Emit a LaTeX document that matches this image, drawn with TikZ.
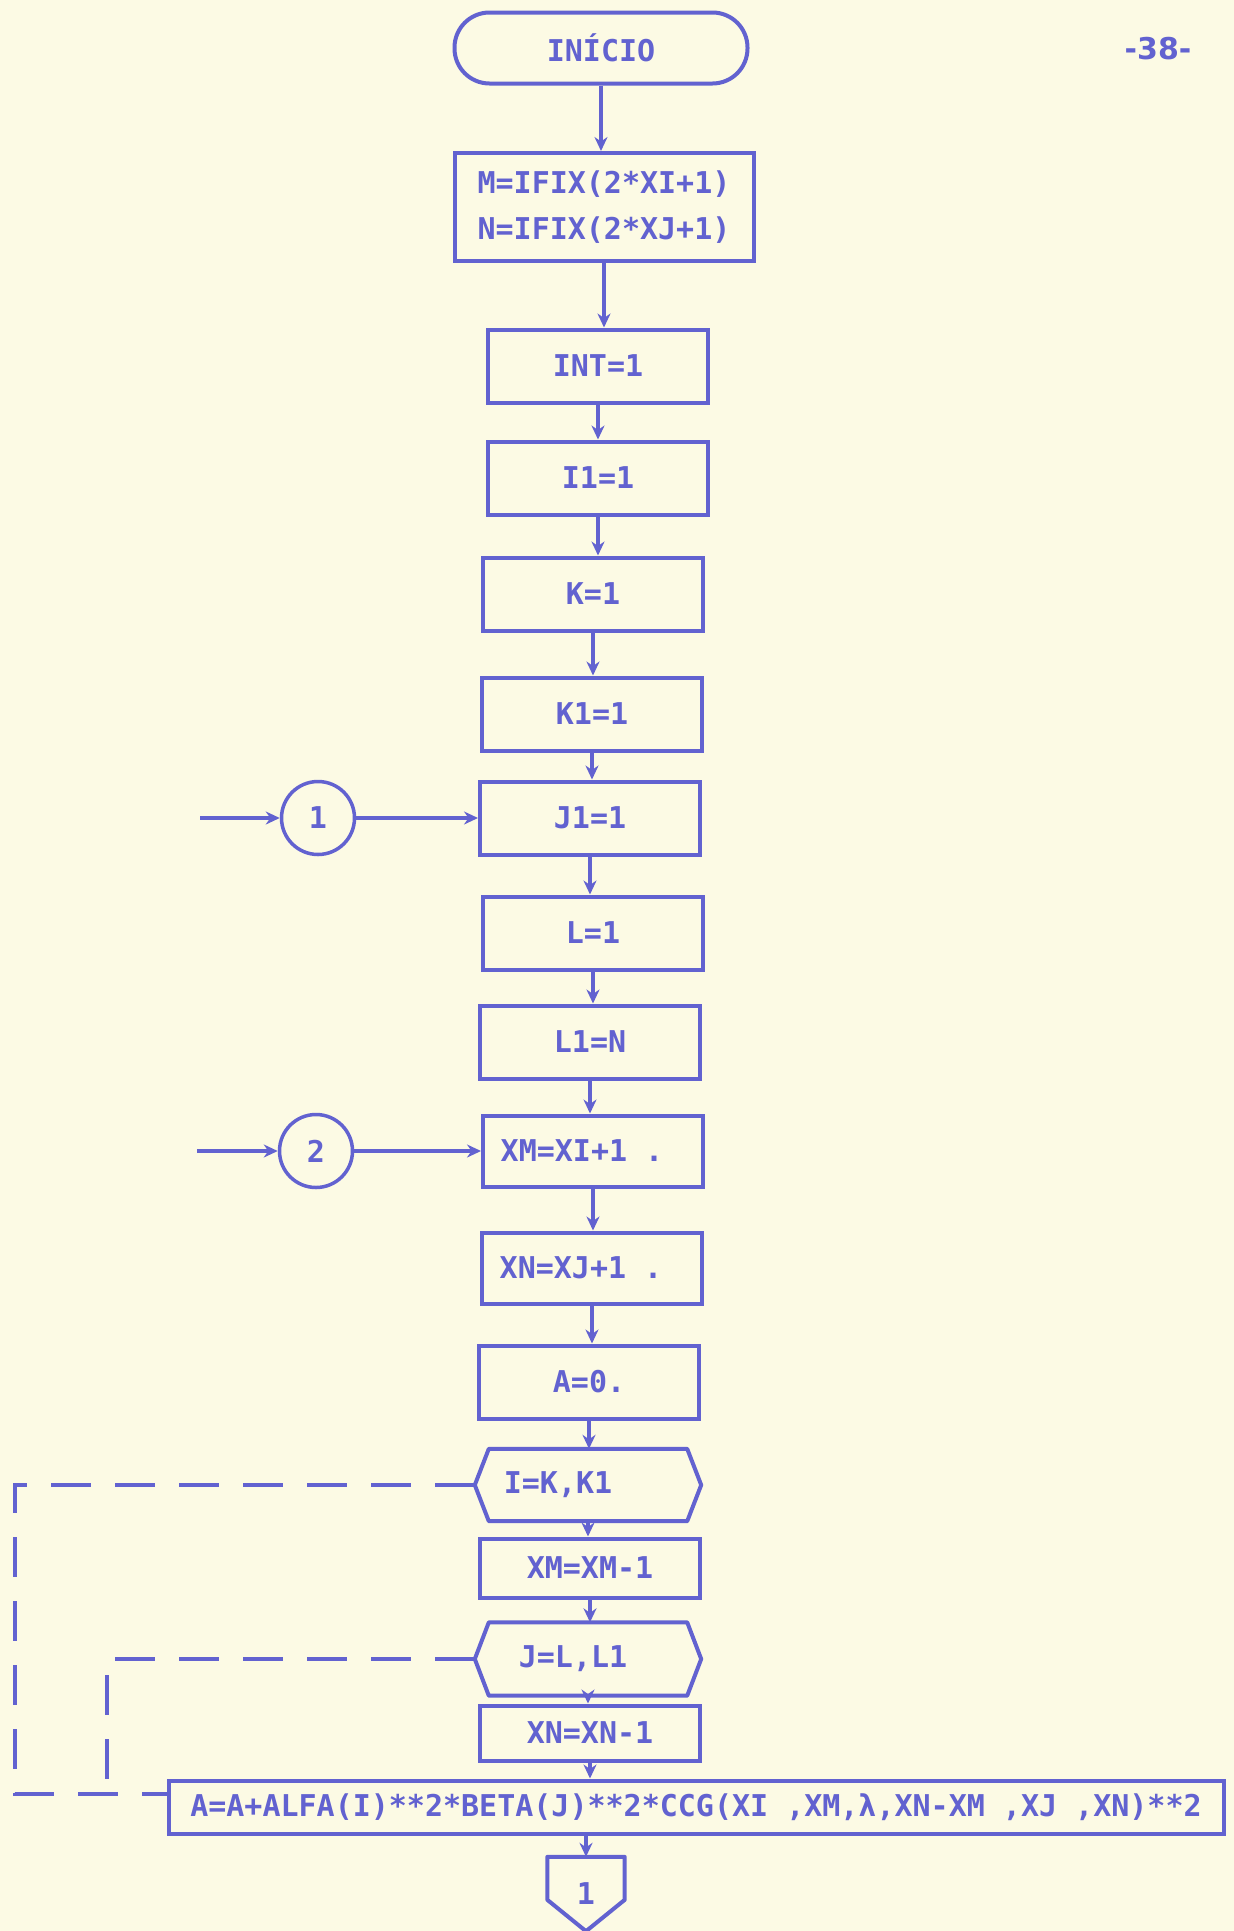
\documentclass[tikz,border=0pt]{standalone}
\usepackage{fontspec}
\setmainfont{DejaVu Sans}
\setmonofont{DejaVu Sans Mono}
\usetikzlibrary{arrows.meta}
\definecolor{ink}{RGB}{98,98,208}
\definecolor{paper}{RGB}{252,250,228}

% outline of a loop (DO) hexagon drawn around a borderless node
\newcommand{\hexoutline}[1]{%
  \draw[ink, line width=4pt, line join=round]
    (#1.west) -- ([xshift=14pt]#1.north west) -- ([xshift=-14pt]#1.north east)
    -- (#1.east) -- ([xshift=-14pt]#1.south east) -- ([xshift=14pt]#1.south west) -- cycle;}
% trailing padding that moves a centred label to the left by half its length
\newcommand{\padr}[1]{\hspace*{#1}}

\begin{document}
\begin{tikzpicture}[x=1pt,y=-1pt,
  every node/.style={font=\ttfamily\bfseries\fontsize{30}{46}\selectfont, text=ink, inner sep=0pt},
  box/.style={draw=ink, line width=4pt, rectangle, minimum width=220pt, minimum height=73pt},
  term/.style={draw=ink, line width=4pt, rectangle, rounded corners=35pt,
               minimum width=293pt, minimum height=71pt},
  conn/.style={draw=ink, line width=3.5pt, circle, minimum size=73pt},
  hexnode/.style={rectangle, minimum width=226pt, minimum height=72pt},
  flow/.style={draw=ink, line width=3.5pt, -{Stealth[length=14pt,width=13pt]}},
  dashloop/.style={draw=ink, line width=3.5pt, dash pattern=on 40pt off 24pt}]

\fill[paper] (0,0) rectangle (1234,1931);
\useasboundingbox (0,0) rectangle (1234,1931);

% page number
\node[font=\bfseries\fontsize{30}{36}\selectfont] (page) at (1158,49) {-38-};

% main column
\node[term] (start) at (601,48) {INÍCIO};
\node[box, minimum width=299pt, minimum height=108pt, align=left] (mn) at (604,207)
  {M=IFIX(2*XI+1)\\N=IFIX(2*XJ+1)};
\node[box] (int) at (598,366) {INT=1};
\node[box] (i1) at (598,478) {I1=1};
\node[box] (k) at (593,594) {K=1};
\node[box] (k1) at (592,714) {K1=1};
\node[box] (j1) at (590,818) {J1=1};
\node[box] (l) at (593,933) {L=1};
\node[box] (l1) at (590,1042) {L1=N};
\node[box, minimum height=71pt] (xm) at (593,1151) {XM=XI+1 .\padr{22pt}};
\node[box, minimum height=71pt] (xn) at (592,1268) {XN=XJ+1 .\padr{22pt}};
\node[box] (a0) at (589,1382) {A=0.};
\node[hexnode] (h1) at (588,1485) {I=K,K1\padr{60pt}};
\node[box, minimum height=59pt] (xmm) at (590,1568) {XM=XM-1};
\node[hexnode, minimum height=73pt] (h2) at (588,1659) {J=L,L1\padr{30pt}};
\node[box, minimum height=55pt] (xnm) at (590,1733) {XN=XN-1};
\node[box, minimum width=1055pt, minimum height=53pt] (wide) at (696,1807)
  {A=A+ALFA(I)**2*BETA(J)**2*CCG(XI ,XM,λ,XN-XM ,XJ ,XN)**2};
\node[rectangle, minimum width=77pt, minimum height=74pt] (off) at (586,1894) {1};

\hexoutline{h1}
\hexoutline{h2}
\draw[ink, line width=4pt, line join=round]
  (off.north west) -- (off.north east) -- ([yshift=-43pt]off.north east)
  -- (off.south) -- ([yshift=-43pt]off.north west) -- cycle;

% entry connectors
\node[conn] (c1) at (318,818) {1};
\node[conn] (c2) at (316,1151) {2};
\coordinate (in1) at (200,818);
\coordinate (in2) at (197,1151);
\draw[flow] (in1) -- (c1);
\draw[flow] (c1) -- (j1);
\draw[flow] (in2) -- (c2);
\draw[flow] (c2) -- (xm);

% vertical flow
\foreach \a/\b in {start/mn, mn/int, int/i1, i1/k, k/k1, k1/j1, j1/l, l/l1, l1/xm,
                   xm/xn, xn/a0, a0/h1, h1/xmm, xmm/h2, h2/xnm, xnm/wide}
  \draw[flow] (\a) -- (\a |- \b.north);
\draw[flow] (wide.south -| off) -- (off.north);

% loop ranges (dashed)
\coordinate (wj) at ([yshift=13pt]wide.west);
\coordinate (ox) at (15,0);
\coordinate (ix) at (107,0);
\draw[dashloop] (h1.west) -| (ox |- wj) -- (wj);
\draw[dashloop] (h2.west) -| (ix |- wj);
\end{tikzpicture}
\end{document}
